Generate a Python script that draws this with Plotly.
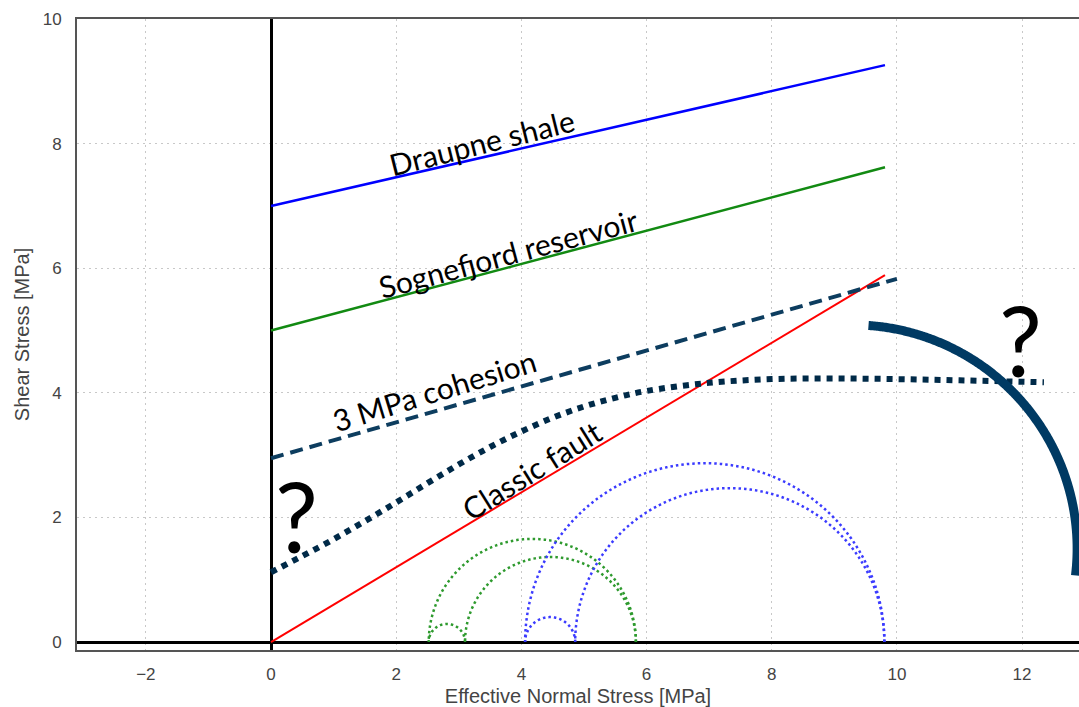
import numpy as np
import plotly.graph_objects as go

# ---------------- data ----------------
draupne_x = [0.0, 9.81]
draupne_y = [7.0, 9.26]
sognefjord_x = [0.0, 9.81]
sognefjord_y = [5.0, 7.62]
classic_x = [0.0, 9.81]
classic_y = [0.0, 5.89]
cohesion_x = [0.0, 10.0]
cohesion_y = [2.95, 5.83]

curve_x = [0.0, 0.5, 1.0, 1.5, 2.0, 2.5, 3.0, 3.5, 4.0, 4.5, 5.0, 5.5, 6.0, 7.0, 8.0, 9.0, 10.0, 11.0, 12.35]
curve_y = [1.12, 1.38, 1.65, 1.94, 2.24, 2.55, 2.85, 3.13, 3.38, 3.60, 3.78, 3.92, 4.03, 4.16, 4.22, 4.23, 4.22, 4.20, 4.17]

green_sigma = [2.52, 3.10, 5.83]   # sigma3, sigma2, sigma1
blue_sigma = [4.06, 4.86, 9.80]

arc_center = [9.29, 1.50]
arc_radius = 3.59
arc_angles_deg = [85.9, -6.9]

x_ticks = [-2, 0, 2, 4, 6, 8, 10, 12]
y_ticks = [0, 2, 4, 6, 8, 10]

labels = ["Draupne shale", "Sognefjord reservoir", "3 MPa cohesion", "Classic fault", "?", "?"]
label_x = [3.37, 3.79, 2.62, 4.16, 0.40, 11.98]
label_y = [8.03, 6.24, 4.04, 2.76, 2.03, 4.86]
label_angle = [-14, -15, -17, -32, 0, 0]
label_size = [30, 30, 30, 30, 96, 96]

# ---------------- figure ----------------
fig = go.Figure()


def mohr(sig, color):
    pairs = [(sig[0], sig[1]), (sig[0], sig[2]), (sig[1], sig[2])]
    t = np.linspace(0, np.pi, 200)
    for a, b in pairs:
        c = (a + b) / 2
        r = (b - a) / 2
        fig.add_trace(go.Scatter(x=c + r * np.cos(t), y=r * np.sin(t), mode="lines",
                                 line=dict(color=color, width=2.5, dash="2.5px,3px", simplify=False),
                                 hoverinfo="skip"))


mohr(green_sigma, "#2e9a2e")
mohr(blue_sigma, "#3b3bff")

fig.add_trace(go.Scatter(x=draupne_x, y=draupne_y, mode="lines",
                         line=dict(color="#0000ff", width=2.5), hoverinfo="skip"))
fig.add_trace(go.Scatter(x=sognefjord_x, y=sognefjord_y, mode="lines",
                         line=dict(color="#128a12", width=2.5), hoverinfo="skip"))
fig.add_trace(go.Scatter(x=classic_x, y=classic_y, mode="lines",
                         line=dict(color="#ff0000", width=2), hoverinfo="skip"))
fig.add_trace(go.Scatter(x=cohesion_x, y=cohesion_y, mode="lines",
                         line=dict(color="#0d3d5f", width=4, dash="13px,7px"), hoverinfo="skip"))
fig.add_trace(go.Scatter(x=curve_x, y=curve_y, mode="lines",
                         line=dict(color="#002a48", width=6, dash="6px,6px", shape="spline",
                                   smoothing=1.0),
                         hoverinfo="skip"))

th = np.radians(np.linspace(arc_angles_deg[0], arc_angles_deg[1], 300))
fig.add_trace(go.Scatter(x=arc_center[0] + arc_radius * np.cos(th),
                         y=arc_center[1] + arc_radius * np.sin(th), mode="lines",
                         line=dict(color="#003a63", width=9, simplify=False), hoverinfo="skip"))

for txt, x, y, ang, sz in zip(labels, label_x, label_y, label_angle, label_size):
    fig.add_annotation(x=x, y=y, text=txt, textangle=ang, showarrow=False,
                       xanchor="center", yanchor="middle",
                       font=dict(family="Lato", size=sz, color="black"))

axis_common = dict(
    showgrid=True, gridcolor="#c8c8c8", gridwidth=1, griddash="2px,4px",
    zeroline=True, zerolinecolor="black", zerolinewidth=3,
    showline=True, linecolor="#555555", linewidth=2,
    ticks="", tickfont=dict(family="Liberation Sans, Arial", size=17, color="#444444"),
    title_font=dict(family="Liberation Sans, Arial", size=20, color="#444444"),
)

fig.update_layout(
    width=1079, height=707,
    margin=dict(l=77, r=0, t=19, b=57),
    paper_bgcolor="white", plot_bgcolor="white",
    showlegend=False, hovermode=False,
    xaxis=dict(range=[-3.10, 12.91], tickvals=x_ticks, mirror=True, ticklabelstandoff=8,
               title=dict(text="Effective Normal Stress [MPa]", standoff=6), **axis_common),
    yaxis=dict(range=[-0.128, 10.0], tickvals=y_ticks, mirror=False, ticklabelstandoff=10,
               title=dict(text="Shear Stress [MPa]", standoff=8), **axis_common),
)

fig.write_html("out.html")
